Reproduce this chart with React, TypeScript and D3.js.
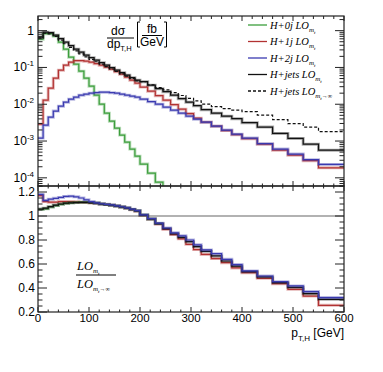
import React from "react";
import * as d3 from "d3";

// bin edges in GeV
const binEdges = [
  0, 10, 20, 30, 40, 50, 60, 70, 80, 90, 100, 110, 120, 130, 140, 150, 160, 170, 180, 190, 200,
  215, 230, 245, 260, 275, 290, 305, 320, 340, 360, 380, 400, 430, 460, 490, 520, 550, 600,
];

// dsigma/dpT [fb/GeV]
const h0j: (number | null)[] = [
  0.587, 0.829, 0.829, 0.709, 0.487, 0.314, 0.1905, 0.123, 0.0793, 0.0512, 0.031, 0.01767,
  0.01006, 0.00573, 0.00347, 0.00224, 0.00145, 0.000933, 0.000603, 0.000389, 0.000236,
  0.000134, 0.0000764, null, null, null, null, null, null, null, null, null, null, null, null,
  null, null, null,
];
const h1j = [
  0.00288, 0.0129, 0.0274, 0.0512, 0.0845, 0.1155, 0.1393, 0.153, 0.153, 0.1483, 0.1393, 0.1268,
  0.1155, 0.1019, 0.0899, 0.0769, 0.0658, 0.0545, 0.0452, 0.0374, 0.0292, 0.0227, 0.01713,
  0.0129, 0.00975, 0.00736, 0.00556, 0.00419, 0.00326, 0.00254, 0.00192, 0.00149, 0.00116,
  0.000824, 0.000566, 0.000414, 0.000293, 0.000187,
];
const h2j = [
  0.0012, 0.0027, 0.00446, 0.0065, 0.00888, 0.0114, 0.01377, 0.0156, 0.01767, 0.0188, 0.02003,
  0.02066, 0.0213, 0.0213, 0.02066, 0.02003, 0.0188, 0.01767, 0.0166, 0.0156, 0.01377, 0.01177,
  0.01006, 0.00834, 0.00691, 0.00573, 0.00475, 0.00394, 0.00326, 0.00254, 0.00198, 0.00154,
  0.0012, 0.00085, 0.000603, 0.000441, 0.000312, 0.000231,
];
const hjets = [
  0.666, 0.91, 0.882, 0.755, 0.606, 0.487, 0.391, 0.314, 0.2606, 0.216, 0.1847, 0.158, 0.135,
  0.1155, 0.0988, 0.0845, 0.0722, 0.0617, 0.0528, 0.0452, 0.0411, 0.033, 0.0265, 0.022,
  0.01767, 0.0142, 0.0114, 0.00916, 0.00713, 0.00573, 0.00475, 0.00406, 0.00316, 0.00239,
  0.00161, 0.00118, 0.000824, 0.000566,
];
const hjetsInf = [
  0.63, 0.854, 0.818, 0.693, 0.551, 0.44, 0.352, 0.282, 0.234, 0.194, 0.1664, 0.1427, 0.1227,
  0.1055, 0.0906, 0.078, 0.0672, 0.0579, 0.05, 0.0433, 0.0408, 0.0338, 0.0283, 0.0246, 0.0207,
  0.0173, 0.0145, 0.0123, 0.0101, 0.0086, 0.0076, 0.00696, 0.0063, 0.00506, 0.00382, 0.00297,
  0.00239, 0.0018,
];

// ratio LO_mt / LO_mt->inf
const r0j: (number | null)[] = [
  1.055, 1.06, 1.075, 1.087, 1.097, 1.105, 1.11, 1.113, 1.115, 1.115, 1.113, 1.108, 1.1, 1.095,
  1.09, 1.083, 1.075, 1.066, 1.055, 1.043, 1.008, 0.976, 0.937, null, null, null, null, null,
  null, null, null, null, null, null, null, null, null, null,
];
const r1j = [
  1.17, 1.12, 1.115, 1.115, 1.12, 1.12, 1.12, 1.118, 1.115, 1.113, 1.11, 1.107, 1.1, 1.095, 1.09,
  1.083, 1.074, 1.064, 1.053, 1.04, 1.005, 0.972, 0.932, 0.888, 0.845, 0.81, 0.764, 0.72, 0.68,
  0.645, 0.611, 0.567, 0.528, 0.481, 0.436, 0.389, 0.333, 0.256,
];
const r2j = [
  1.18, 1.13, 1.14, 1.147, 1.155, 1.163, 1.165, 1.16, 1.15, 1.135, 1.12, 1.11, 1.102, 1.097,
  1.092, 1.085, 1.077, 1.068, 1.057, 1.045, 1.01, 0.978, 0.94, 0.9, 0.86, 0.835, 0.8, 0.76,
  0.717, 0.686, 0.639, 0.595, 0.542, 0.5, 0.453, 0.417, 0.37, 0.32,
];
const rjets = [
  1.058, 1.065, 1.078, 1.09, 1.1, 1.107, 1.11, 1.112, 1.113, 1.113, 1.11, 1.107, 1.1, 1.095,
  1.09, 1.083, 1.075, 1.066, 1.055, 1.043, 1.008, 0.976, 0.937, 0.895, 0.852, 0.822, 0.786,
  0.745, 0.706, 0.667, 0.625, 0.583, 0.536, 0.492, 0.444, 0.406, 0.353, 0.306,
];

const legendLabels = ["H+0j LO", "H+1j LO", "H+2j LO", "H+jets LO", "H+jets LO"];
const xTickLabels = [0, 100, 200, 300, 400, 500, 600];
const ratioTickLabels = [0.2, 0.4, 0.6, 0.8, 1, 1.2];

const GREEN = "#3c9e3c";
const RED = "#b23232";
const BLUE = "#3a3ab0";
const BLACK = "#111";

const L = 38, R = 344, T = 16, M = 186, B = 312;
const x = d3.scaleLinear().domain([0, 600]).range([L, R]);
const yTop = d3.scaleLog().domain([6e-5, 2.5]).range([M, T]);
const yRat = d3.scaleLinear().domain([0.2, 1.25]).range([B, M]);

// step outline; if drop is set, a series that ends early falls off the bottom
const histPath = (vals: (number | null)[], y: (v: number) => number, drop?: number) => {
  const pts: [number, number][] = [];
  for (let i = 0; i < vals.length; i++) {
    const v = vals[i];
    if (v == null) {
      if (pts.length && drop != null) pts.push([x(binEdges[i]), drop + 5]);
      break;
    }
    pts.push([x(binEdges[i]), y(v)]);
    pts.push([x(binEdges[i + 1]), y(v)]);
  }
  return d3.line()(pts) || "";
};

const Hist = ({ d, color, dash, clip }: { d: string; color: string; dash?: string; clip: string }) => (
  <g clipPath={`url(#${clip})`}>
    {!dash && <path d={d} fill="none" stroke={color} strokeOpacity={0.35} strokeWidth={3} />}
    <path d={d} fill="none" stroke={color} strokeWidth={1.2} strokeDasharray={dash} />
  </g>
);

const Sub = ({ inf }: { inf?: boolean }) => (
  <tspan dy={3} fontSize={7}>
    m<tspan dy={2} fontSize={5}>t</tspan>
    {inf ? <tspan dy={-2} fontSize={6}>{"\u2192\u221e"}</tspan> : null}
  </tspan>
);

export default function App() {
  const logTicks = yTop.ticks();
  const isMajorLog = (t: number) => Math.abs(Math.log10(t) - Math.round(Math.log10(t))) < 1e-6;
  const xTicks = d3.range(0, 601, 20);
  const rTicks = d3.range(0.2, 1.2501, 0.05);
  const isMajorR = (t: number) => Math.abs(t * 5 - Math.round(t * 5)) < 1e-6;
  const font = "Liberation Sans, Arial, sans-serif";
  const serif = "Liberation Serif, Times New Roman, serif";

  const topSeries = [
    { v: h0j, c: GREEN },
    { v: h1j, c: RED },
    { v: h2j, c: BLUE },
    { v: hjets, c: BLACK },
  ];
  const ratSeries = [
    { v: r1j, c: RED },
    { v: r0j, c: GREEN },
    { v: rjets, c: BLACK },
    { v: r2j, c: BLUE },
  ];
  const legendColors = [GREEN, RED, BLUE, BLACK, BLACK];

  return (
    <svg width={383} height={372} style={{ position: "absolute", left: 0, top: 0, background: "#fff" }}>
      <defs>
        <clipPath id="cTop"><rect x={L} y={T} width={R - L} height={M - T} /></clipPath>
        <clipPath id="cRat"><rect x={L} y={M} width={R - L} height={B - M} /></clipPath>
      </defs>

      {/* ratio reference line */}
      <line x1={L} x2={R} y1={yRat(1)} y2={yRat(1)} stroke="#999" strokeWidth={1.5} />

      {topSeries.map((s, i) => (
        <Hist key={i} d={histPath(s.v, yTop, M)} color={s.c} clip="cTop" />
      ))}
      <Hist d={histPath(hjetsInf, yTop, M)} color={BLACK} dash="3,2" clip="cTop" />

      {ratSeries.map((s, i) => (
        <Hist key={i} d={histPath(s.v, yRat)} color={s.c} clip="cRat" />
      ))}

      {/* frames */}
      <rect x={L} y={T} width={R - L} height={M - T} fill="none" stroke="#222" strokeWidth={1.2} />
      <rect x={L} y={M} width={R - L} height={B - M} fill="none" stroke="#222" strokeWidth={1.2} />

      {/* log ticks */}
      {logTicks.map((t, i) => {
        const len = isMajorLog(t) ? 9 : 4.5;
        const yy = yTop(t);
        return (
          <g key={i} stroke="#222" strokeWidth={1}>
            <line x1={L} x2={L + len} y1={yy} y2={yy} />
            <line x1={R} x2={R - len} y1={yy} y2={yy} />
          </g>
        );
      })}
      {logTicks.filter(isMajorLog).map((t, i) => {
        const e = Math.round(Math.log10(t));
        return (
          <text key={i} x={34} y={yTop(t) + 4} textAnchor="end" fontFamily={font} fontSize={12}>
            {e === 0 ? "1" : (
              <>
                10<tspan dy={-5} fontSize={8}>{`${e}`}</tspan>
              </>
            )}
          </text>
        );
      })}

      {/* x ticks */}
      {xTicks.map((t, i) => {
        const major = t % 100 === 0;
        const xx = x(t);
        return (
          <g key={i} stroke="#222" strokeWidth={1}>
            <line x1={xx} x2={xx} y1={T} y2={T + (major ? 5 : 3)} />
            <line x1={xx} x2={xx} y1={M - (major ? 5 : 2.5)} y2={M + (major ? 5 : 2.5)} />
            <line x1={xx} x2={xx} y1={B} y2={B - (major ? 5 : 2.5)} />
          </g>
        );
      })}
      {xTickLabels.map((t) => (
        <text key={t} x={x(t)} y={322} textAnchor="middle" fontFamily={font} fontSize={11.5}>
          {t}
        </text>
      ))}

      {/* ratio ticks */}
      {rTicks.map((t, i) => {
        const len = isMajorR(t) ? 9 : 4.5;
        const yy = yRat(t);
        return (
          <g key={i} stroke="#222" strokeWidth={1}>
            <line x1={L} x2={L + len} y1={yy} y2={yy} />
            <line x1={R} x2={R - len} y1={yy} y2={yy} />
          </g>
        );
      })}
      {ratioTickLabels.map((t) => (
        <text key={t} x={35} y={yRat(t) + 4} textAnchor="end" fontFamily={font} fontSize={12}>
          {t}
        </text>
      ))}

      {/* x title */}
      <text x={R} y={337} textAnchor="end" fontFamily={font} fontSize={12}>
        p<tspan dy={4} fontSize={8}>T,H</tspan>
        <tspan dy={-4}> [GeV]</tspan>
      </text>

      {/* y label top */}
      <g fontFamily={font} fontSize={12}>
        <text x={118} y={35} textAnchor="middle">{"d\u03c3"}</text>
        <line x1={107} x2={134} y1={38} y2={38} stroke="#000" strokeWidth={1} />
        <text x={107} y={48}>dp<tspan dy={3} fontSize={7.5}>T,H</tspan></text>
        <path d="M140,22 h-2.5 v25 h2.5" fill="none" stroke="#000" strokeWidth={1} />
        <path d="M164,22 h2.5 v25 h-2.5" fill="none" stroke="#000" strokeWidth={1} />
        <text x={152} y={33} textAnchor="middle">fb</text>
        <line x1={142} x2={162} y1={35.5} y2={35.5} stroke="#000" strokeWidth={1} />
        <text x={152} y={46} textAnchor="middle">GeV</text>
      </g>

      {/* legend */}
      {legendLabels.map((lab, i) => {
        const yy = 25 + i * 16.5;
        return (
          <g key={i}>
            <line x1={248} x2={267} y1={yy} y2={yy} stroke={legendColors[i]} strokeWidth={1.3}
              strokeDasharray={i === 4 ? "3,2" : undefined} />
            <text x={270} y={yy + 3.5} fontFamily={serif} fontStyle="italic" fontSize={10.5}>
              {lab}
              <Sub inf={i === 4} />
            </text>
          </g>
        );
      })}

      {/* ratio label */}
      <g fontFamily={serif} fontStyle="italic" fontSize={12.5}>
        <text x={77} y={270}>LO<Sub /></text>
        <line x1={76} x2={116} y1={275} y2={275} stroke="#000" strokeWidth={1} />
        <text x={77} y={288}>LO<Sub inf /></text>
      </g>
    </svg>
  );
}
